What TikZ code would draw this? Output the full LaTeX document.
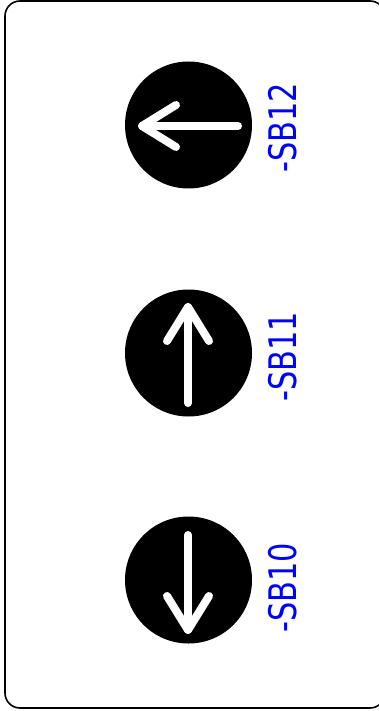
\documentclass[tikz,border=0pt]{standalone}
\usepackage{fontspec}
\setmainfont{DejaVu Sans}
\definecolor{lbl}{RGB}{0,0,255}
\tikzset{
 frame/.style={draw=black,line width=1.6pt,rounded corners=15pt},
 disc/.style={circle,fill=black,minimum size=127pt,inner sep=0pt},
 arrowline/.style={draw=white,line width=8pt,line cap=round,line join=round},
 lab/.style={text=lbl,font=\fontsize{38}{38}\selectfont,rotate=90,xscale=0.8,inner sep=0pt}
}
\begin{document}
\begin{tikzpicture}[x=1pt,y=-1pt]
\useasboundingbox (0,0) rectangle (378,711);
\fill[white] (0,0) rectangle (378,711);
\draw[frame] (5,1) rectangle (385,708);
\node[disc] (d1) at (188.5,125) {};
\node[disc] (d2) at (188.5,353) {};
\node[disc] (d3) at (188.5,580) {};
\draw[arrowline] (238,126) -- (142,126);
\draw[arrowline] (176,147) -- (142,126) -- (176,105);
\draw[arrowline] (188,403) -- (188,307);
\draw[arrowline] (167,341) -- (188,307) -- (209,341);
\draw[arrowline] (188,535) -- (188,630);
\draw[arrowline] (167,596) -- (188,630) -- (209,596);
\node[lab] (l1) at (283,128) {-SB12};
\node[lab] (l2) at (283,357) {-SB11};
\node[lab] (l3) at (283,588) {-SB10};
\end{tikzpicture}
\end{document}
